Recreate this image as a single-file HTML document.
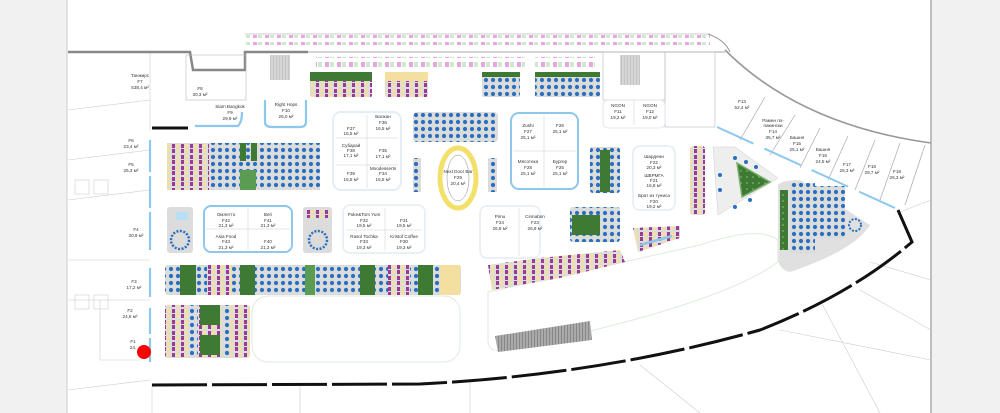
<!DOCTYPE html>
<html><head><meta charset="utf-8"><style>
html,body{margin:0;padding:0;background:#f1f1f1;width:1000px;height:413px;overflow:hidden}
svg{display:block}
text{font-family:"Liberation Sans","Noto Sans CJK SC",sans-serif;font-size:4.6px;fill:#333;text-anchor:middle}
</style></head><body>
<svg width="1000" height="413" viewBox="0 0 1000 413" xmlns="http://www.w3.org/2000/svg">
<defs>
<pattern id="bd" width="7" height="7" patternUnits="userSpaceOnUse"><rect width="7" height="7" fill="#dcdcdc"/><circle cx="3" cy="3" r="2.1" fill="#2a6fc0"/><circle cx="6.5" cy="6.5" r="0.8" fill="#c8e6c8"/></pattern>
<pattern id="pu" width="9" height="11" patternUnits="userSpaceOnUse"><rect width="9" height="11" fill="#dcdcdc"/><rect x="1" y="1" width="3" height="4" fill="#9a3a95"/><rect x="5" y="1" width="3" height="4" fill="#f3dfa0"/><rect x="1" y="6" width="3" height="4" fill="#9a3a95"/><rect x="5" y="6" width="3" height="4" fill="#f3dfa0"/></pattern>
<pattern id="st" width="12" height="10" patternUnits="userSpaceOnUse"><rect width="12" height="10" fill="#fff"/><rect x="1" y="2" width="4" height="6" fill="#e6a6e0"/><rect x="6" y="2" width="4" height="6" fill="#cfe8cf"/></pattern>
<pattern id="gr" width="6" height="6" patternUnits="userSpaceOnUse"><rect width="6" height="6" fill="#3e7a34"/><circle cx="3" cy="3" r="0.8" fill="#8fbf86"/></pattern>
<pattern id="es" width="3" height="4" patternUnits="userSpaceOnUse"><rect width="3" height="4" fill="#aaa"/><rect width="1" height="4" fill="#888"/></pattern>
</defs>
<rect x="67" y="0" width="864" height="413" fill="#fff"/>
<line x1="931" y1="0" x2="931" y2="413" stroke="#aaa" stroke-width="1.5"/>
<line x1="67" y1="0" x2="67" y2="413" stroke="#ccc"/>
<g stroke="#ccc" fill="none" stroke-width="0.6">
<path d="M68,52 L150,52 L150,130 M68,110 L150,100 M68,160 L150,150 M68,200 L150,190 M68,260 L150,260 M68,300 L150,300 M68,390 L150,380 M100,300 L100,360 L140,360"/>
<rect x="75" y="180" width="14" height="14"/><rect x="94" y="180" width="14" height="14"/>
<rect x="75" y="295" width="14" height="14"/><rect x="94" y="295" width="14" height="14"/>
<path d="M152,385 L152,413 M300,385 L300,413 M470,380 L470,413 M640,365 L700,413 M820,300 L880,413 M870,262 L931,280 M900,212 L931,200"/>
<path d="M860,290 L931,330 M780,330 L931,360"/>
</g>
<path d="M68,52 L190,52 L193,70 L245,70 L245,52 L308,52" stroke="#888" stroke-width="2.5" fill="none"/>
<path d="M308,52 L725,52" stroke="#aaa" stroke-width="1" fill="none"/>
<path d="M245,34 L710,34" stroke="#bbb" stroke-width="0.8"/>
<path d="M725,50 Q800,125 931,143" stroke="#999" stroke-width="1.6" fill="none"/>
<path d="M708,34 Q725,40 730,52" stroke="#999" stroke-width="1" fill="none"/>
<rect x="186" y="55" width="60" height="45" fill="none" stroke="#bbb" stroke-width="0.6"/>
<rect x="603" y="52" width="62" height="48" fill="none" stroke="#bbb" stroke-width="0.6"/>
<rect x="665" y="52" width="50" height="75" fill="none" stroke="#bbb" stroke-width="0.6"/>
<g fill="url(#es)" opacity="0.5"><rect x="270" y="55" width="20" height="25"/><rect x="620" y="55" width="20" height="30"/></g>
<line x1="152" y1="128" x2="188" y2="128" stroke="#111" stroke-width="3"/>
<path d="M152,385 L420,384 Q600,375 760,330 Q850,295 912,242 L898,210" stroke="#111" stroke-width="3" fill="none" stroke-dasharray="55,5"/>
<g stroke="#aaa" stroke-width="0.7">
<line x1="765" y1="97" x2="740" y2="140"/><line x1="795" y1="115" x2="770" y2="155"/><line x1="820" y1="128" x2="800" y2="168"/><line x1="848" y1="136" x2="828" y2="180"/><line x1="875" y1="140" x2="855" y2="190"/><line x1="900" y1="143" x2="880" y2="200"/><line x1="925" y1="145" x2="905" y2="205"/>
</g>
<line x1="717" y1="127" x2="895" y2="208" stroke="#8cc8ee" stroke-width="2" stroke-dasharray="40,12"/>
<g stroke="#8cc8ee" stroke-width="2.2" fill="none">
<line x1="150" y1="140" x2="150" y2="172"/><line x1="150" y1="176" x2="150" y2="208"/><line x1="150" y1="212" x2="150" y2="250"/><line x1="150" y1="268" x2="150" y2="297"/><line x1="150" y1="308" x2="150" y2="334"/><line x1="150" y1="338" x2="150" y2="362"/>
<path d="M195,126 L238,126 Q242,122 242,112"/>
<path d="M265,100 L265,122 Q265,127 272,127 L300,127 Q306,127 306,122 L306,100"/>
</g>
<rect x="245" y="35" width="465" height="10" fill="url(#st)"/>
<rect x="316" y="57" width="80" height="10" fill="url(#st)"/>
<rect x="385" y="57" width="50" height="10" fill="url(#st)"/>
<rect x="425" y="57" width="100" height="10" fill="url(#st)"/>
<rect x="535" y="57" width="60" height="10" fill="url(#st)"/>
<rect x="310" y="72" width="62" height="25" fill="url(#pu)" rx="2"/><rect x="310" y="72" width="62" height="9" fill="#3e7a34"/>
<rect x="385" y="72" width="43" height="25" fill="url(#pu)" rx="2"/><rect x="385" y="72" width="43" height="9" fill="#f3dfa0"/>
<rect x="482" y="72" width="38" height="25" fill="url(#bd)" rx="2"/><rect x="482" y="72" width="38" height="5" fill="#3e7a34"/>
<rect x="535" y="72" width="65" height="25" fill="url(#bd)" rx="2"/><rect x="535" y="72" width="65" height="5" fill="#3e7a34"/>
<rect x="167" y="143" width="153" height="47" rx="3" fill="#dcdcdc"/>
<rect x="167" y="143" width="42" height="47" fill="url(#pu)"/>
<rect x="210" y="143" width="110" height="47" fill="url(#bd)"/>
<rect x="240" y="143" width="6" height="18" fill="#3e7a34"/><rect x="251" y="143" width="6" height="18" fill="#3e7a34"/>
<rect x="240" y="170" width="16" height="20" fill="#5a9c52"/>
<rect x="333" y="112" width="68" height="78" rx="8" fill="#fff" stroke="#e4ecf4" stroke-width="2"/>
<g stroke="#ccc" stroke-width="0.5"><line x1="367" y1="115" x2="367" y2="188"/><line x1="336" y1="138" x2="398" y2="138"/><line x1="336" y1="165" x2="398" y2="165"/></g>
<text x="351" y="130">F37</text><text x="351" y="135">16,5 м²</text>
<text x="383" y="118">Балкан</text><text x="383" y="124">F36</text><text x="383" y="130">16,5 м²</text>
<text x="351" y="147">Субарай</text><text x="351" y="152">F38</text><text x="351" y="157">17,1 м²</text>
<text x="383" y="152">F35</text><text x="383" y="158">17,1 м²</text>
<text x="351" y="175">F39</text><text x="351" y="181">16,5 м²</text>
<text x="383" y="170">Moodesserts</text><text x="383" y="175">F34</text><text x="383" y="181">16,5 м²</text>
<rect x="413" y="112" width="85" height="30" rx="4" fill="url(#bd)"/>
<rect x="413" y="158" width="8" height="34" fill="url(#bd)"/><rect x="488" y="158" width="9" height="34" fill="url(#bd)"/>
<ellipse cx="458" cy="178" rx="18" ry="30" fill="none" stroke="#f2e06b" stroke-width="5"/>
<ellipse cx="458" cy="178" rx="11" ry="23" fill="#fff" stroke="#888" stroke-width="0.5"/>
<text x="458" y="173">Next Door Bar</text><text x="458" y="179">F29</text><text x="458" y="185">20,4 м²</text>
<rect x="511" y="113" width="67" height="76" rx="8" fill="#fff" stroke="#8cc8ee" stroke-width="2"/>
<g stroke="#ccc" stroke-width="0.5"><line x1="544" y1="115" x2="544" y2="187"/><line x1="513" y1="151" x2="576" y2="151"/></g>
<text x="528" y="127">Zushi</text><text x="528" y="133">F27</text><text x="528" y="139">25,1 м²</text>
<text x="560" y="127">F26</text><text x="560" y="133">25,1 м²</text>
<text x="528" y="163">Мясотека</text><text x="528" y="169">F28</text><text x="528" y="175">25,1 м²</text>
<text x="560" y="163">Бургер</text><text x="560" y="169">F25</text><text x="560" y="175">25,1 м²</text>
<rect x="603" y="100" width="62" height="28" rx="5" fill="#fff" stroke="#dde" stroke-width="0.8"/>
<line x1="634" y1="100" x2="634" y2="125" stroke="#ccc" stroke-width="0.5"/>
<text x="618" y="107">NGON</text><text x="618" y="113">F11</text><text x="618" y="119">19,2 м²</text>
<text x="650" y="107">NGON</text><text x="650" y="113">F12</text><text x="650" y="119">19,0 м²</text>
<rect x="590" y="147" width="30" height="46" rx="3" fill="url(#bd)"/><rect x="600" y="150" width="10" height="42" fill="#3e7a34"/>
<rect x="633" y="146" width="42" height="64" rx="7" fill="#fff" stroke="#e4ecf4" stroke-width="1.5"/>
<text x="654" y="158">Шардени</text><text x="654" y="164">F22</text><text x="654" y="169">20,3 м²</text>
<text x="654" y="177">ШВРМГА</text><text x="654" y="182">F21</text><text x="654" y="187">16,8 м²</text>
<text x="654" y="197">Брат из туниса</text><text x="654" y="203">F20</text><text x="654" y="208">19,2 м²</text>
<rect x="690" y="146" width="15" height="69" rx="3" fill="url(#pu)"/>
<path d="M713,147 L735,147 L778,178 L718,215 Z" fill="#eee" stroke="#ccc" stroke-width="0.5"/>
<path d="M737,163 L770,182 L742,197 Z" fill="url(#gr)" stroke="#7ab06e" stroke-width="1.5"/>
<circle cx="735" cy="158" r="2" fill="#2a6fc0"/><circle cx="746" cy="162" r="2" fill="#2a6fc0"/><circle cx="756" cy="167" r="2" fill="#2a6fc0"/><circle cx="720" cy="175" r="2" fill="#2a6fc0"/><circle cx="720" cy="190" r="2" fill="#2a6fc0"/><circle cx="735" cy="207" r="2" fill="#2a6fc0"/><circle cx="750" cy="200" r="2" fill="#2a6fc0"/>
<path d="M778,185 Q782,180 800,180 L870,225 Q855,250 790,272 Q780,270 778,260 Z" fill="#e0e0e0"/>
<rect x="790" y="183" width="25" height="70" fill="url(#bd)"/>
<rect x="780" y="190" width="8" height="60" fill="url(#gr)"/>
<rect x="815" y="186" width="30" height="52" fill="url(#bd)"/>
<circle cx="855" cy="225" r="6" fill="none" stroke="#2a6fc0" stroke-width="2" stroke-dasharray="2,1.5"/>
<text x="742" y="103">F13</text><text x="742" y="109">52,4 м²</text>
<text x="773" y="122">Рамен по-</text><text x="773" y="127">пакински</text><text x="773" y="133">F14</text><text x="773" y="139">35,7 м²</text>
<text x="797" y="139">Башня</text><text x="797" y="145">F15</text><text x="797" y="151">25,1 м²</text>
<text x="823" y="151">Башня</text><text x="823" y="157">F16</text><text x="823" y="163">24,5 м²</text>
<text x="847" y="166">F17</text><text x="847" y="172">26,3 м²</text>
<text x="872" y="168">F18</text><text x="872" y="174">29,7 м²</text>
<text x="897" y="173">F19</text><text x="897" y="179">26,3 м²</text>
<text x="140" y="77">Танжирс</text><text x="140" y="83">F7</text><text x="140" y="89">538,4 м²</text>
<text x="200" y="90">F8</text><text x="200" y="96">30,3 м²</text>
<text x="230" y="108">Siam Bangkok</text><text x="230" y="114">F9</text><text x="230" y="120">29,9 м²</text>
<text x="286" y="106">Right Hops</text><text x="286" y="112">F10</text><text x="286" y="118">26,0 м²</text>
<text x="131" y="142">F6</text><text x="131" y="148">23,4 м²</text>
<text x="131" y="166">F5</text><text x="131" y="172">25,3 м²</text>
<text x="136" y="231">F4</text><text x="136" y="237">30,9 м²</text>
<text x="134" y="283">F3</text><text x="134" y="289">17,2 м²</text>
<text x="130" y="312">F2</text><text x="130" y="318">24,6 м²</text>
<text x="133" y="343">F1</text><text x="133" y="349">24,</text>
<rect x="167" y="207" width="26" height="46" rx="3" fill="#dcdcdc"/><circle cx="180" cy="240" r="9" fill="none" stroke="#2a6fc0" stroke-width="2.5" stroke-dasharray="2,1.5"/><rect x="176" y="212" width="12" height="8" fill="#b9dff5"/>
<rect x="204" y="206" width="88" height="46" rx="7" fill="#fff" stroke="#8cc8ee" stroke-width="2"/>
<g stroke="#ccc" stroke-width="0.5"><line x1="248" y1="208" x2="248" y2="250"/><line x1="206" y1="229" x2="290" y2="229"/></g>
<text x="226" y="216">Омлетто</text><text x="226" y="222">F42</text><text x="226" y="227">21,3 м²</text>
<text x="268" y="216">Beri</text><text x="268" y="222">F41</text><text x="268" y="227">21,3 м²</text>
<text x="226" y="238">Asia Food</text><text x="226" y="243">F43</text><text x="226" y="249">21,3 м²</text>
<text x="268" y="243">F40</text><text x="268" y="249">21,3 м²</text>
<rect x="303" y="207" width="29" height="46" rx="3" fill="#dcdcdc"/><rect x="305" y="208" width="25" height="10" fill="url(#pu)"/><circle cx="318" cy="240" r="9" fill="none" stroke="#2a6fc0" stroke-width="2.5" stroke-dasharray="2,1.5"/>
<rect x="343" y="205" width="82" height="48" rx="7" fill="#fff" stroke="#e4ecf4" stroke-width="1.5"/>
<g stroke="#ccc" stroke-width="0.5"><line x1="385" y1="208" x2="385" y2="251"/><line x1="346" y1="230" x2="422" y2="230"/></g>
<text x="364" y="216">Poke&amp;Tom Yum</text><text x="364" y="222">F32</text><text x="364" y="227">19,5 м²</text>
<text x="404" y="222">F31</text><text x="404" y="227">19,5 м²</text>
<text x="364" y="238">Rasol Tochka</text><text x="364" y="243">F33</text><text x="364" y="249">19,3 м²</text>
<text x="404" y="238">Kristof Coffee</text><text x="404" y="243">F30</text><text x="404" y="249">19,3 м²</text>
<rect x="480" y="206" width="60" height="52" rx="7" fill="#fff" stroke="#e4ecf4" stroke-width="1.5"/>
<line x1="519" y1="208" x2="519" y2="256" stroke="#ccc" stroke-width="0.5"/>
<text x="500" y="218">Pimu</text><text x="500" y="224">F24</text><text x="500" y="230">26,8 м²</text>
<text x="535" y="218">Cinnabon</text><text x="535" y="224">F23</text><text x="535" y="230">26,8 м²</text>
<rect x="570" y="207" width="50" height="35" rx="3" fill="url(#bd)"/><rect x="572" y="215" width="28" height="20" fill="#3e7a34"/>
<rect x="165" y="265" width="296" height="30" rx="3" fill="url(#bd)"/>
<rect x="180" y="265" width="16" height="30" fill="#3e7a34"/><rect x="240" y="265" width="15" height="30" fill="#3e7a34"/><rect x="305" y="265" width="10" height="30" fill="#5a9c52"/><rect x="360" y="265" width="15" height="30" fill="#3e7a34"/><rect x="418" y="265" width="15" height="30" fill="#3e7a34"/><rect x="440" y="265" width="20" height="30" fill="#f3dfa0"/>
<rect x="388" y="265" width="22" height="30" fill="url(#pu)"/><rect x="207" y="265" width="25" height="30" fill="url(#pu)"/>
<rect x="165" y="305" width="85" height="53" rx="3" fill="url(#pu)"/>
<rect x="200" y="305" width="20" height="20" fill="#3e7a34"/><rect x="200" y="335" width="20" height="20" fill="#3e7a34"/><rect x="190" y="305" width="8" height="53" fill="url(#bd)"/><rect x="222" y="305" width="8" height="53" fill="url(#bd)"/>
<rect x="252" y="296" width="208" height="66" rx="16" fill="#fff" stroke="#dcebdc" stroke-width="1"/>
<path d="M488,292 L700,245 Q760,225 778,240 L778,262 Q740,290 640,318 Q560,340 500,350 Q488,352 488,340 Z" fill="#fff" stroke="#dcebdc" stroke-width="1"/>
<path d="M488,265 L540,258 L620,250 L625,262 L560,278 L492,290 Z" fill="url(#pu)"/>
<path d="M633,228 L680,226 L680,238 L638,252 Z" fill="url(#pu)"/>
<path d="M640,245 L672,236" stroke="#8cc8ee" stroke-width="2.5"/>
<path d="M495,336 L590,321 L592,340 L498,352 Z" fill="url(#es)"/>
<circle cx="144" cy="352" r="7" fill="#f00"/>
</svg>
</body></html>
